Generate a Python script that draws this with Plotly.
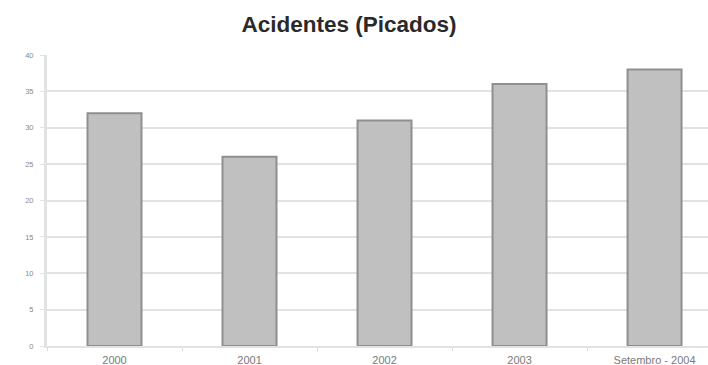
import plotly.graph_objects as go

# Acidentes por período
periodos = ["2000", "2001", "2002", "2003", "Setembro - 2004"]
acidentes = [32, 26, 31, 36, 38]
y_ticks = [0, 5, 10, 15, 20, 25, 30, 35, 40]

fig = go.Figure(
    go.Bar(
        x=periodos,
        y=acidentes,
        width=0.4,
        marker=dict(color="#c0c0c0", line=dict(color="#8f8f8f", width=2)),
        hoverinfo="x+y",
    )
)

fig.update_layout(
    width=708,
    height=365,
    margin=dict(l=47, r=0, t=55, b=19),
    paper_bgcolor="white",
    plot_bgcolor="white",
    showlegend=False,
    title=dict(
        text="<b>Acidentes (Picados)</b>",
        x=0.493,
        xanchor="center",
        y=0.935,
        yanchor="middle",
        font=dict(family="Liberation Sans, Arial, sans-serif", size=22.5, color="#2a2a2a"),
    ),
    font=dict(family="Liberation Sans, Arial, sans-serif", color="#777777"),
)

fig.update_xaxes(
    type="category",
    range=[-0.5, 4.396],
    showline=True,
    linecolor="#e2e2e2",
    linewidth=2,
    ticks="outside",
    tickson="boundaries",
    ticklen=3,
    tickcolor="#d8d8d8",
    showgrid=False,
    tickfont=dict(size=11, color="#7a7a7a"),
    ticklabelstandoff=3,
)

fig.update_yaxes(
    range=[0, 40],
    tickvals=y_ticks,
    showline=True,
    linecolor="#e2e2e2",
    linewidth=3,
    showgrid=True,
    gridcolor="#e2e2e2",
    gridwidth=2,
    ticks="outside",
    ticklen=4,
    tickcolor="#e2e2e2",
    tickfont=dict(size=7.5, color="#888888"),
    ticklabelstandoff=5,
    zeroline=False,
)

fig.write_html("out.html")
